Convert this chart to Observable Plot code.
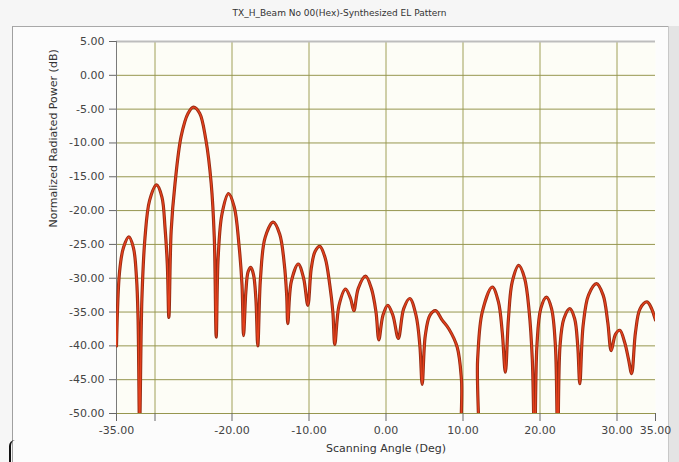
<!DOCTYPE html>
<html>
<head>
<meta charset="utf-8">
<script src="https://cdn.jsdelivr.net/npm/d3@7"></script>
<script src="https://cdn.jsdelivr.net/npm/@observablehq/plot@0.6"></script>
<style>
  html, body { margin: 0; padding: 0; }
  body { width: 679px; height: 462px; position: relative; overflow: hidden; background: #f6f6f6; font-family: "DejaVu Sans", sans-serif; }
  #title { position: absolute; left: 0; top: 0; width: 679px; height: 26px; line-height: 27px; text-align: center; font-size: 9px; color: #333; }
  #panel { position: absolute; left: 12px; top: 26px; width: 656px; height: 440px; background: #fcfcfc; border-top: 1px solid #a8a8a8; border-left: 1px solid #a0a0a0; }
  #rbar { position: absolute; left: 668px; top: 26px; width: 11px; height: 440px; background: #e4e4e4; border-left: 1px solid #c8c8c8; }
  #chart { position: absolute; left: 0; top: 27px; }
  #mark { position: absolute; left: 9px; top: 440px; width: 4px; height: 24px; border-left: 2px solid #111; border-top-left-radius: 6px; }
</style>
</head>
<body>
<div id="title">TX_H_Beam No 00(Hex)-Synthesized EL Pattern</div>
<div id="panel"></div>
<div id="rbar"></div>
<div id="chart"></div>
<div id="mark"></div>
<script>
// Scanning angle (deg) and normalized radiated power (dB)
const angle = [
  -35, -34.6, -34.1, -33.4, -32.8, -32.4, -32.2, -32.0,
  -31.7, -31.3, -30.7, -29.8, -29.1, -28.7, -28.4, -28.2,
  -27.9, -27.4, -26.6, -25.7, -25.0, -24.2, -23.4, -22.7, -22.3, -22.05,
  -21.8, -21.3, -20.45, -19.7, -19.1, -18.7, -18.5,
  -18.2, -17.9, -17.55, -17.2, -16.9, -16.65,
  -16.3, -15.7, -14.65, -13.8, -13.2, -12.9, -12.75,
  -12.3, -11.4, -10.7, -10.15,
  -9.7, -9.2, -8.6, -7.9, -7.3, -6.9, -6.65,
  -6.1, -5.26, -4.6, -4.18,
  -3.6, -2.66, -1.9, -1.3, -0.93,
  -0.4, 0.23, 0.9, 1.6,
  2.3, 3.09, 3.9, 4.4, 4.7,
  5.1, 5.7, 6.43, 7.3, 8.17, 9.25, 9.8, 10.2, 11.5,
  11.9, 12.5, 13.8, 14.6, 15.1, 15.5,
  15.9, 16.4, 17.25, 18.0, 18.6, 19.0, 19.3,
  19.6, 20.1, 20.84, 21.5, 22.0, 22.3,
  22.6, 23.1, 23.87, 24.5, 24.9, 25.17,
  25.6, 26.3, 27.34, 28.2, 28.8, 29.25,
  29.8, 30.36, 31.0, 31.5, 31.9,
  32.4, 33.0, 33.9, 34.5, 35
];
const power = [
  -40, -29, -25.5, -23.9, -25.5, -30, -36, -52,
  -33, -24, -18.5, -16.2, -18, -22.5, -28, -35.8,
  -23, -16, -9, -5.6, -4.7, -5.6, -9.5, -16, -24, -38.7,
  -27, -20.5, -17.5, -19.5, -25, -31, -38.5,
  -32, -29, -28.4, -29.5, -33, -40,
  -30, -24, -21.7, -23.5, -28, -32.5, -36.7,
  -30.5, -27.9, -30, -34.0,
  -28.5, -26, -25.3, -27, -31, -35, -39.8,
  -34, -31.6, -33, -34.8,
  -31.5, -29.7, -31.5, -35, -39.1,
  -35.5, -34.0, -35.5, -38.9,
  -34.5, -33.0, -35.5, -40, -45.7,
  -38.5, -35.5, -34.8, -36.2, -37.5, -40.2, -45, -60, -60,
  -42, -35, -31.3, -33.5, -38, -43.9,
  -36, -30.5, -28.1, -30, -35, -42, -55,
  -40, -34.5, -32.8, -34.5, -40, -55,
  -40, -36, -34.5, -36, -40, -45.6,
  -37, -32.5, -30.8, -32.5, -36.5, -40.7,
  -38.3, -37.7, -39.5, -42, -44.1,
  -38, -34.5, -33.5, -34.5, -36.2
];
const xTicks = [-35, -30, -20, -10, 0, 10, 20, 30, 35];
const xGrid = [-30, -20, -10, 0, 10, 20, 30];
const yTicks = [5, 0, -5, -10, -15, -20, -25, -30, -35, -40, -45, -50];
const yGrid = [0, -5, -10, -15, -20, -25, -30, -35, -40, -45, -50];
const hiddenXLabels = [-30];

const data = angle.map((a, i) => ({angle: a, power: power[i]}));
const fmt = d => d.toFixed(2);

const chart = Plot.plot({
  width: 679,
  height: 435,
  marginLeft: 116,
  marginRight: 24,
  marginTop: 14,
  marginBottom: 49,
  style: {fontFamily: "DejaVu Sans, sans-serif", fontSize: "11px", background: "transparent", color: "#444"},
  x: {domain: [-35, 35], label: null},
  y: {domain: [-50, 5], label: null},
  marks: [
    Plot.frame({fill: "#fdfdf6", stroke: null}),
    Plot.gridX(xGrid, {stroke: "#a0a058", strokeOpacity: 1, strokeWidth: 1}),
    Plot.gridY(yGrid, {stroke: "#96964f", strokeOpacity: 1, strokeWidth: 1}),
    Plot.ruleY([5], {stroke: "#bdbdbd", strokeWidth: 2}),
    Plot.ruleX([-35], {stroke: "#7a7a7a", strokeWidth: 1}),
    Plot.axisX(xTicks, {tickSize: 8, tickPadding: 5, stroke: "#666",
      tickFormat: d => hiddenXLabels.includes(d) ? "" : fmt(d), fill: "#444"}),
    Plot.axisY(yTicks, {tickSize: 7, tickPadding: 5, stroke: "#666", tickFormat: fmt, fill: "#444"}),
    Plot.line(data, {x: "angle", y: "power", stroke: "#962c14", strokeWidth: 3.2, curve: "catmull-rom", clip: true}),
    Plot.line(data, {x: "angle", y: "power", stroke: "#e6401c", strokeWidth: 1.4, curve: "catmull-rom", clip: true}),
    Plot.text(["Scanning Angle (Deg)"], {frameAnchor: "bottom", dy: 38, fill: "#333", fontSize: 11}),
    Plot.text(["Normalized Radiated Power (dB)"], {frameAnchor: "left", dx: -63, rotate: -90, fill: "#333", fontSize: 11})
  ]
});
document.getElementById("chart").appendChild(chart);
</script>
</body>
</html>
